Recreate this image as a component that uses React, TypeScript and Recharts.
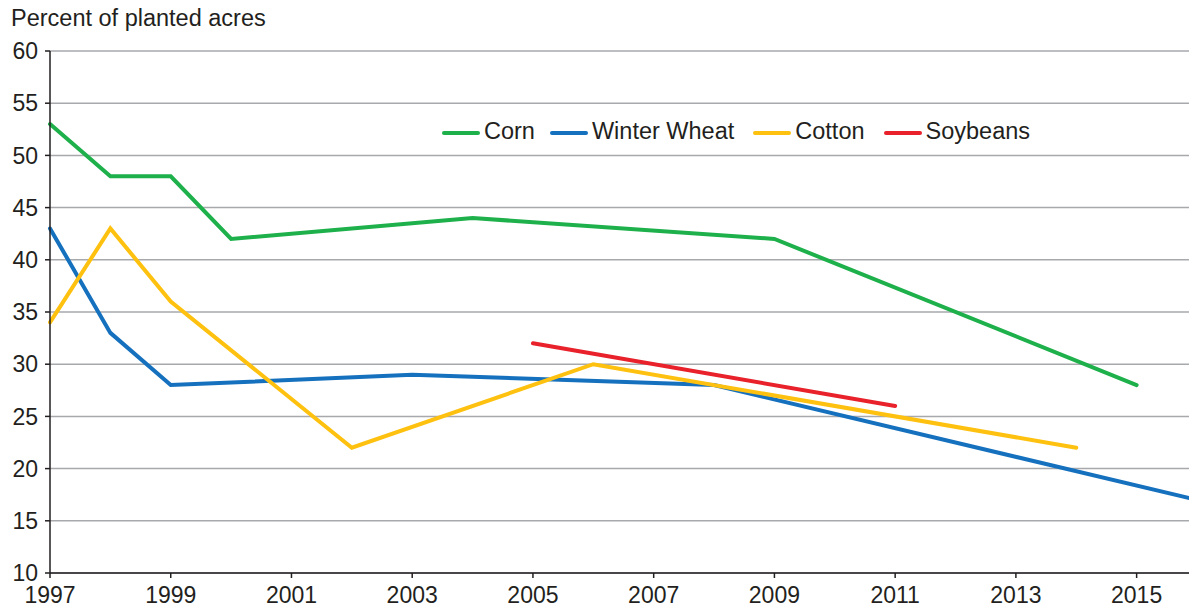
import React from 'react'
import { LineChart, Line, XAxis, YAxis, CartesianGrid } from 'recharts'

const cornYears = [1997, 1998, 1999, 2000, 2004, 2009, 2015]
const cornValues = [53, 48, 48, 42, 44, 42, 28]

const wheatYears = [1997, 1998, 1999, 2003, 2008, 2016]
const wheatValues = [43, 33, 28, 29, 28, 17]

const cottonYears = [1997, 1998, 1999, 2002, 2006, 2014]
const cottonValues = [34, 43, 36, 22, 30, 22]

const soyYears = [2005, 2011]
const soyValues = [32, 26]

const xTicks = [1997, 1999, 2001, 2003, 2005, 2007, 2009, 2011, 2013, 2015]
const yTicks = [10, 15, 20, 25, 30, 35, 40, 45, 50, 55, 60]

const toPoints = (years: number[], values: number[]) => years.map((year, i) => ({ year, value: values[i] }))

const series = [
  { name: 'Corn', color: '#1EB04B', data: toPoints(cornYears, cornValues) },
  { name: 'Winter Wheat', color: '#1570BE', data: toPoints(wheatYears, wheatValues) },
  { name: 'Cotton', color: '#FEC10F', data: toPoints(cottonYears, cottonValues) },
  { name: 'Soybeans', color: '#E8212B', data: toPoints(soyYears, soyValues) },
]

const FONT = '"Liberation Sans", Arial, sans-serif'
const tickStyle = { fontSize: 23, fill: '#231F20', fontFamily: FONT }

// legend sits inside the plot, drawn as plain html so it takes no room from the chart
function LegendRow() {
  return (
    <div
      style={{
        position: 'absolute', left: 442, top: 118, display: 'flex', alignItems: 'center',
        fontFamily: FONT, fontSize: 23.5, color: '#231F20', height: 26,
      }}
    >
      {series.map((s, i) => (
        <div key={s.name} style={{ display: 'flex', alignItems: 'center', marginRight: i === 0 ? 15 : 19 }}>
          <span style={{ display: 'inline-block', width: 38, height: 4, borderRadius: 2, background: s.color, marginRight: 4, marginTop: 3 }} />
          <span>{s.name}</span>
        </div>
      ))}
    </div>
  )
}

export default function App() {
  return (
    <div style={{ position: 'absolute', left: 0, top: 0, width: 1189, height: 611, overflow: 'hidden', background: '#fff' }}>
      <div style={{ position: 'absolute', left: 11, top: 7, fontFamily: FONT, fontSize: 23.5, lineHeight: 1, color: '#231F20' }}>
        Percent of planted acres
      </div>
      <LineChart width={1197} height={611} margin={{ top: 51, right: 0, bottom: 0, left: 0 }}>
        <CartesianGrid vertical={false} stroke="#A7A9AC" strokeWidth={1.5} />
        <XAxis
          dataKey="year"
          type="number"
          domain={[1997, 2016]}
          ticks={xTicks}
          height={38}
          tick={tickStyle}
          tickSize={5}
          tickMargin={9}
          stroke="#231F20"
          strokeWidth={1.5}
          allowDuplicatedCategory={false}
        />
        <YAxis
          type="number"
          domain={[10, 60]}
          ticks={yTicks}
          width={50}
          tick={tickStyle}
          tickSize={5}
          tickMargin={7}
          stroke="#231F20"
          strokeWidth={1.5}
        />
        {series.map((s) => (
          <Line
            key={s.name}
            data={s.data}
            dataKey="value"
            name={s.name}
            type="linear"
            stroke={s.color}
            strokeWidth={4}
            strokeLinecap="round"
            dot={false}
            activeDot={false}
            isAnimationActive={false}
          />
        ))}
      </LineChart>
      <LegendRow />
    </div>
  )
}
